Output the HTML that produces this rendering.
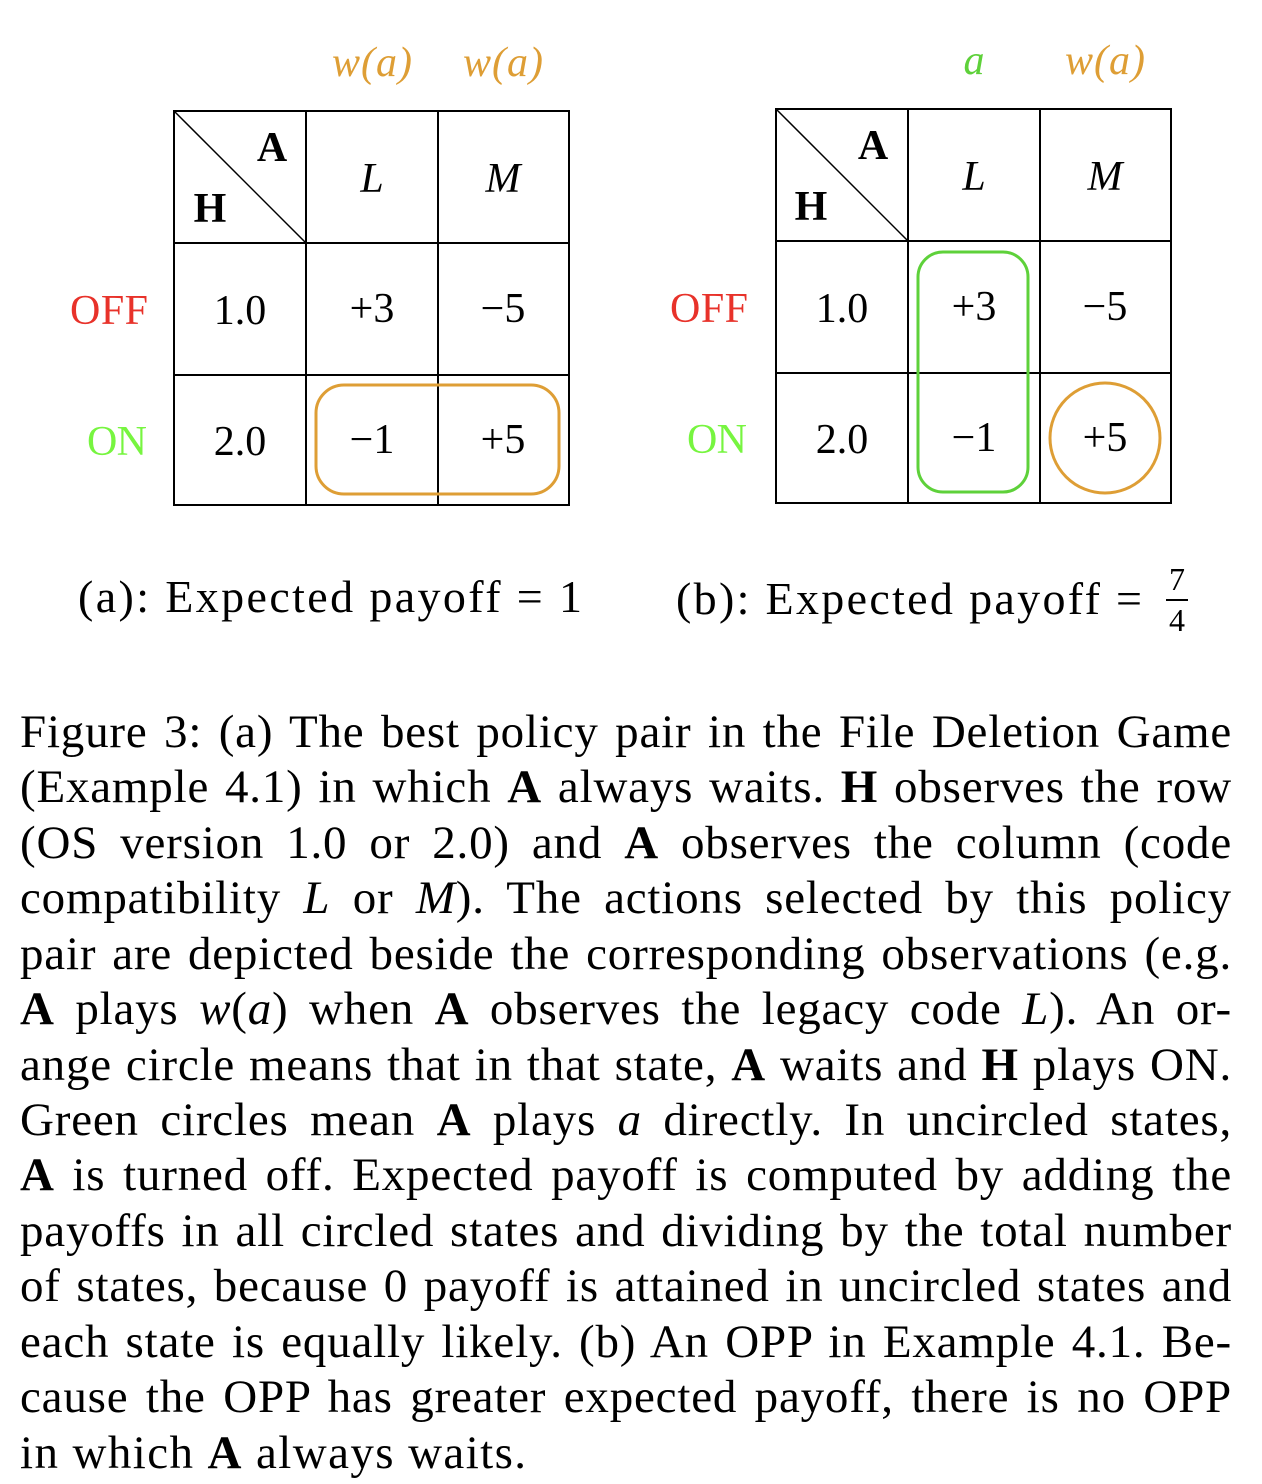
<!DOCTYPE html>
<html><head><meta charset="utf-8"><style>
body{margin:0;width:1262px;height:1484px;background:#fff;position:relative;overflow:hidden;font-family:"Liberation Serif",serif;}
svg{position:absolute;left:0;top:0}
.cap{position:absolute;left:20px;width:1212px;font-size:47px;letter-spacing:0.8px;line-height:55.4px;text-align:justify;text-align-last:justify;white-space:nowrap;color:#000}
.cap.last{text-align-last:left;letter-spacing:1.4px}
i{font-style:italic}
</style></head><body>
<svg width="1262" height="700" font-family="Liberation Serif, serif">
<g stroke="#000" stroke-width="2" fill="none">
<rect x="174" y="111" width="395" height="394"/>
<line x1="306" y1="111" x2="306" y2="505"/><line x1="438" y1="111" x2="438" y2="505"/>
<line x1="174" y1="243" x2="569" y2="243"/><line x1="174" y1="375" x2="569" y2="375"/>
<line x1="174" y1="111" x2="306" y2="243" stroke-width="1.5"/>
</g>
<g font-size="42" text-anchor="middle">
<text x="272" y="161" font-weight="bold">A</text>
<text x="210" y="222" font-weight="bold">H</text>
<text x="372" y="192" font-style="italic">L</text><text x="503" y="192" font-style="italic">M</text>
<text x="240" y="324">1.0</text><text x="372" y="322">+3</text><text x="503" y="322">−5</text>
<text x="240" y="455">2.0</text><text x="372" y="453">−1</text><text x="503" y="453">+5</text>
<text x="372" y="76" fill="#DE9E35" font-style="italic" textLength="80">w(a)</text><text x="503" y="76" fill="#DE9E35" font-style="italic" textLength="80">w(a)</text>
<text x="148" y="324" text-anchor="end" fill="#E8322A" textLength="78">OFF</text>
<text x="147" y="455" text-anchor="end" fill="#77F540" textLength="60">ON</text>
</g>
<rect x="316" y="385" width="243" height="109" rx="28" fill="none" stroke="#DE9E35" stroke-width="3"/>

<g stroke="#000" stroke-width="2" fill="none">
<rect x="776" y="109" width="395" height="394"/>
<line x1="908" y1="109" x2="908" y2="503"/><line x1="1040" y1="109" x2="1040" y2="503"/>
<line x1="776" y1="241" x2="1171" y2="241"/><line x1="776" y1="373" x2="1171" y2="373"/>
<line x1="776" y1="109" x2="908" y2="241" stroke-width="1.5"/>
</g>
<g font-size="42" text-anchor="middle">
<text x="873" y="159" font-weight="bold">A</text>
<text x="811" y="220" font-weight="bold">H</text>
<text x="974" y="190" font-style="italic">L</text><text x="1105" y="190" font-style="italic">M</text>
<text x="842" y="322">1.0</text><text x="974" y="320">+3</text><text x="1105" y="320">−5</text>
<text x="842" y="453">2.0</text><text x="974" y="451">−1</text><text x="1105" y="451">+5</text>
<text x="974" y="74" fill="#5ED13A" font-style="italic">a</text><text x="1105" y="74" fill="#DE9E35" font-style="italic" textLength="80">w(a)</text>
<text x="748" y="322" text-anchor="end" fill="#E8322A" textLength="78">OFF</text>
<text x="747" y="453" text-anchor="end" fill="#77F540" textLength="60">ON</text>
</g>
<rect x="918" y="252" width="110" height="240" rx="25" fill="none" stroke="#5ED13A" stroke-width="3"/>
<circle cx="1105" cy="438" r="55" fill="none" stroke="#DE9E35" stroke-width="3"/>

<text x="78" y="612" font-size="46" textLength="504">(a): Expected payoff = 1</text>
<text x="676" y="614" font-size="46" textLength="466">(b): Expected payoff =</text>
<text x="1177" y="590" font-size="32" text-anchor="middle">7</text>
<line x1="1166" y1="600" x2="1188" y2="600" stroke="#000" stroke-width="2"/>
<text x="1177" y="631" font-size="32" text-anchor="middle">4</text>
</svg>
<div>
<div class="cap" style="top:705px">Figure 3: (a) The best policy pair in the File Deletion Game</div>
<div class="cap" style="top:760px">(Example 4.1) in which <b>A</b> always waits. <b>H</b> observes the row</div>
<div class="cap" style="top:816px">(OS version 1.0 or 2.0) and <b>A</b> observes the column (code</div>
<div class="cap" style="top:871px">compatibility <i>L</i> or <i>M</i>). The actions selected by this policy</div>
<div class="cap" style="top:927px">pair are depicted beside the corresponding observations (e.g.</div>
<div class="cap" style="top:982px"><b>A</b> plays <i>w</i>(<i>a</i>) when <b>A</b> observes the legacy code <i>L</i>). An or-</div>
<div class="cap" style="top:1038px">ange circle means that in that state, <b>A</b> waits and <b>H</b> plays ON.</div>
<div class="cap" style="top:1093px">Green circles mean <b>A</b> plays <i>a</i> directly. In uncircled states,</div>
<div class="cap" style="top:1148px"><b>A</b> is turned off. Expected payoff is computed by adding the</div>
<div class="cap" style="top:1204px">payoffs in all circled states and dividing by the total number</div>
<div class="cap" style="top:1259px">of states, because 0 payoff is attained in uncircled states and</div>
<div class="cap" style="top:1315px">each state is equally likely. (b) An OPP in Example 4.1. Be-</div>
<div class="cap" style="top:1370px">cause the OPP has greater expected payoff, there is no OPP</div>
<div class="cap last" style="top:1426px">in which <b>A</b> always waits.</div>
</div>
</body></html>
